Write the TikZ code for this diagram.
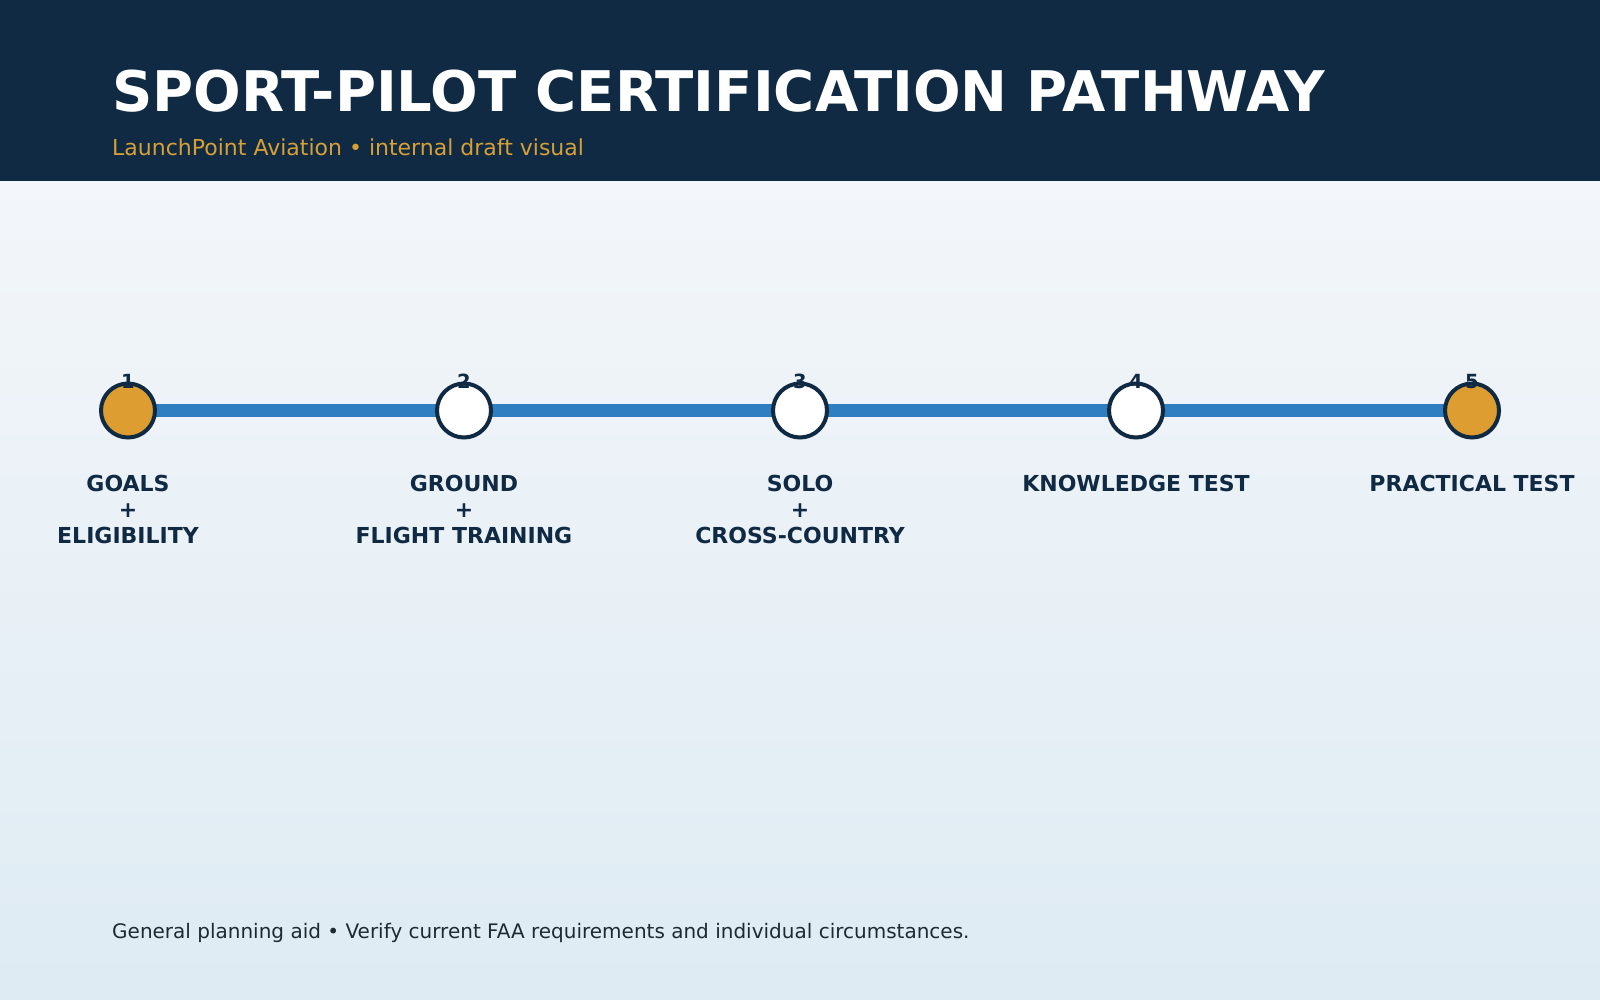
\documentclass[tikz,border=0pt]{standalone}
\usepackage{fontspec}
\setmainfont{DejaVu Sans}
\usetikzlibrary{positioning}
\definecolor{headnavy}{RGB}{16,42,67}
\definecolor{pathgold}{RGB}{221,157,48}
\definecolor{trackblue}{RGB}{47,126,193}
\definecolor{bgtop}{RGB}{243,246,250}
\definecolor{bgbottom}{RGB}{222,235,243}
\definecolor{footgray}{RGB}{31,41,51}
\definecolor{subgold}{RGB}{214,160,55}

\begin{document}
\begin{tikzpicture}[x=1pt,y=-1pt,
    stepdot/.style={circle,draw=headnavy,line width=4pt,minimum size=54pt,inner sep=0pt},
    stepnum/.style={font=\fontsize{19.5}{19.5}\selectfont\bfseries,text=headnavy,inner sep=0pt},
    steplabel/.style={font=\fontsize{22}{26}\selectfont\bfseries,text=headnavy,align=center,inner sep=0pt,anchor=base},
    track/.style={trackblue,line width=13.5pt}]
    \useasboundingbox (0,0) rectangle (1600,1000);

    % Background and header band
    \shade[top color=bgtop,bottom color=bgbottom] (0,181) rectangle (1600,1000);
    \fill[headnavy] (0,0) rectangle (1600,181);
    \node[anchor=base west,inner sep=0pt,text=white,font=\fontsize{56}{56}\selectfont\bfseries] (title) at (112,112) {SPORT-PILOT CERTIFICATION PATHWAY};
    \node[anchor=base west,inner sep=0pt,text=subgold,font=\fontsize{22}{22}\selectfont] (subtitle) at (112,156) {LaunchPoint Aviation • internal draft visual};

    % Timeline
    \foreach \i in {1,...,5}
        \coordinate (p\i) at ({128+336*(\i-1)},410.5);
    \foreach \i [evaluate=\i as \j using int(\i+1)] in {1,...,4}
        \draw[track] (p\i) -- (p\j);
    \foreach \i/\c in {1/pathgold,2/white,3/white,4/white,5/pathgold} {
        \node[stepdot,fill=\c] (s\i) at (p\i) {};
        \node[stepnum] (n\i) at (s\i.north) {\i};
    }

    % Step labels (base is the last line)
    \node[steplabel] (l1) at (128,543) {GOALS\\+\\ELIGIBILITY};
    \node[steplabel] (l2) at (464,543) {GROUND\\+\\FLIGHT TRAINING};
    \node[steplabel] (l3) at (800,543) {SOLO\\+\\CROSS-COUNTRY};
    \node[steplabel] (l4) at (1136,491) {KNOWLEDGE TEST};
    \node[steplabel] (l5) at (1472,491) {PRACTICAL TEST};

    % Footer
    \node[anchor=base west,inner sep=0pt,text=footgray,font=\fontsize{20}{20}\selectfont] (footer) at (112,938) {General planning aid • Verify current FAA requirements and individual circumstances.};
\end{tikzpicture}
\end{document}
